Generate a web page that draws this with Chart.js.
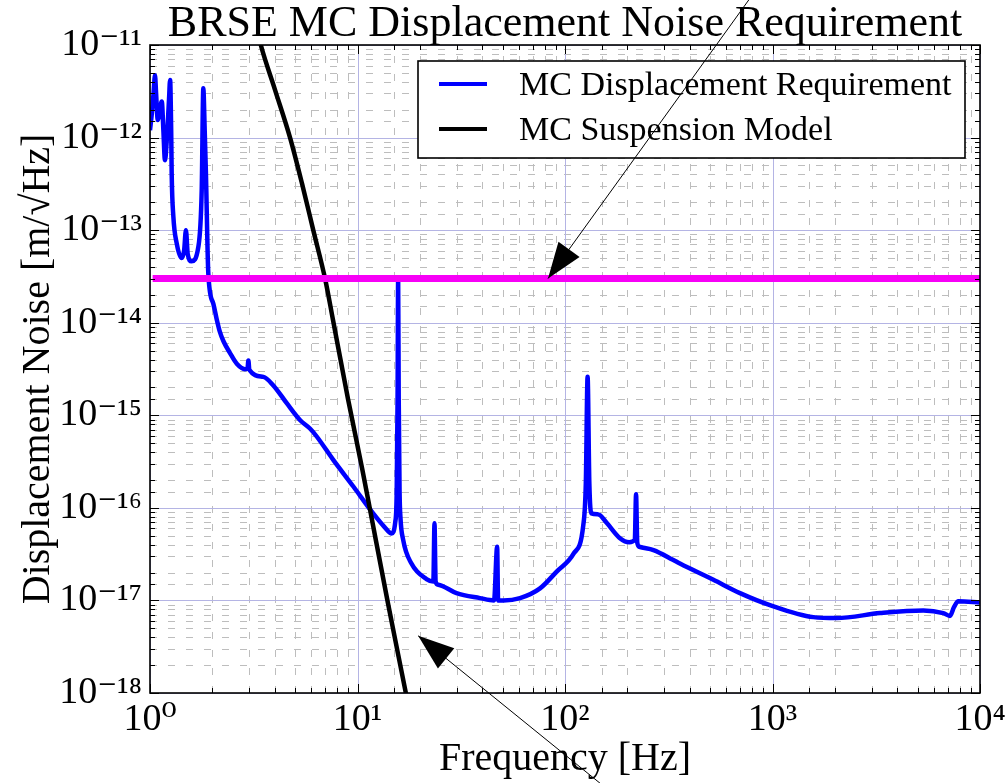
<!DOCTYPE html>
<html>
<head>
<meta charset="utf-8">
<script src="https://cdn.jsdelivr.net/npm/chart.js@4.4.1/dist/chart.umd.min.js"></script>
<style>
  html, body { margin: 0; padding: 0; background: #fff; }
</style>
</head>
<body>
<canvas id="mcChart" width="1006" height="783"></canvas>
<script>
// MC displacement requirement (blue)
const reqFreq = [1.00, 1.02, 1.04, 1.057, 1.07, 1.09, 1.115, 1.14, 1.16, 1.18, 1.21, 1.235, 1.25, 1.265, 1.272,
  1.296, 1.345, 1.42, 1.46, 1.49, 1.52, 1.585, 1.71, 1.775, 1.807, 1.835, 1.86, 1.91, 2.02, 2.10, 2.17, 2.26,
  2.43, 2.62, 2.87, 2.95, 2.98, 3.01, 3.52, 3.93, 4.56, 5.28, 5.9, 6.36, 7.64, 9.55, 11.9, 13.5, 14.6, 15.2,
  15.45, 15.6, 15.7, 15.8, 15.95, 16.1, 16.6, 18.2, 21.5, 23.2, 23.5, 23.8, 24.5, 30, 38.9, 45.5, 47.1, 47.6,
  50.5, 60.7, 75.8, 91.2, 110, 122.5, 126, 128.5, 131, 134, 144.8, 158.7, 184, 204, 217, 220, 223, 228, 267,
  331, 358, 519, 697, 972, 1574, 2040, 3300, 5330, 6650, 7160, 7500, 7860, 10000];
const reqNoise = [1.2e-12, 1.8e-12, 3.0e-12, 4.7e-12, 3.0e-12, 1.55e-12, 2.0e-12, 2.45e-12, 1.2e-12, 5.7e-13, 1.1e-12, 2.6e-12, 4.2e-12, 1.2e-12, 4.1e-13,
  1.4e-13, 7.2e-14, 5.0e-14, 6.0e-14, 1.0e-13, 5.5e-14, 4.6e-14, 6.6e-14, 2.7e-13, 3.4e-12, 1.2e-12, 4.1e-13, 3.4e-14, 1.6e-14, 1.07e-14, 8.0e-15, 6.3e-15,
  4.7e-15, 3.6e-15, 3.15e-15, 3.2e-15, 3.9e-15, 3.1e-15, 2.6e-15, 2.1e-15, 1.35e-15, 8.9e-16, 7.2e-16, 5.9e-16, 3.3e-16, 1.7e-16, 8.7e-17, 6.2e-17, 5.3e-17, 7.0e-17,
  1.5e-16, 1.5e-15, 3.0e-14, 1.5e-15, 1.5e-16, 8.0e-17, 4.5e-17, 2.5e-17, 1.7e-17, 1.6e-17, 6.8e-17, 1.6e-17, 1.48e-17, 1.2e-17, 1.06e-17, 1.0e-17, 3.8e-17, 1.0e-17,
  1.0e-17, 1.06e-17, 1.35e-17, 2.05e-17, 3.2e-17, 6.5e-17, 1.85e-16, 2.6e-15, 1.85e-16, 8.7e-17, 8.5e-17, 6.9e-17, 4.7e-17, 4.25e-17, 4.5e-17, 1.4e-16, 4.2e-17, 3.8e-17, 3.5e-17,
  2.75e-17, 2.5e-17, 1.67e-17, 1.2e-17, 8.9e-18, 6.6e-18, 6.45e-18, 7.3e-18, 7.8e-18, 7.3e-18, 6.8e-18, 8.5e-18, 9.8e-18, 9.5e-18];

// MC suspension model (black)
const suspFreq = [3.0, 3.42, 4.0, 4.73, 5.4, 6.12, 7.0, 7.62, 9.0, 10.55, 11.5, 14.0, 17.1, 19.0];
const suspNoise = [3.5e-11, 1e-11, 3.3e-12, 1e-12, 3.2e-13, 1e-13, 2.9e-14, 1.07e-14, 1.5e-15, 2.6e-16, 9.5e-17, 9.5e-18, 1e-18, 3e-19];

// flat requirement level (magenta)
const specFreq = [1.03, 10000];
const specNoise = [3e-14, 3e-14];

const seriesLabels = ['MC Displacement Requirement', 'MC Suspension Model'];

const xDecades = [1, 10, 100, 1000, 10000];
const xTickLabels = ['10⁰', '10¹', '10²', '10³', '10⁴'];
const yDecades = [1e-18, 1e-17, 1e-16, 1e-15, 1e-14, 1e-13, 1e-12, 1e-11];
const yTickLabels = ['10⁻¹⁸', '10⁻¹⁷', '10⁻¹⁶', '10⁻¹⁵', '10⁻¹⁴', '10⁻¹³', '10⁻¹²', '10⁻¹¹'];

// annotation arrows: tail -> head, in data units
const arrowTails = [[779, 3.2e-11], [150.7, 1.02e-19]];
const arrowHeads = [[82.8, 3e-14], [19.6, 4.15e-18]];

const FONT = "'Liberation Serif', 'DejaVu Serif', serif";

function toPoints(xs, ys) {
    return xs.map((v, i) => ({ x: v, y: ys[i] }));
}

function decadeIndex(list, v) {
    return list.findIndex(d => Math.abs(Math.log10(v) - Math.log10(d)) < 1e-6);
}

function isDecade(v) {
    const e = Math.log10(v);
    return Math.abs(e - Math.round(e)) < 1e-6;
}

/* ==============================
   GRID, FRAME, LEGEND, ARROWS
============================== */

const decorations = {
    id: 'decorations',
    beforeDatasetsDraw(chart) {
        const { ctx, chartArea: a, scales: { x, y } } = chart;
        ctx.save();
        ctx.lineWidth = 1;

        // minor grid - dashed gray
        ctx.strokeStyle = '#bdbdbd';
        ctx.setLineDash([7, 11]);
        x.ticks.forEach(t => {
            if (isDecade(t.value)) return;
            const px = Math.round(x.getPixelForValue(t.value)) + 0.5;
            ctx.beginPath(); ctx.moveTo(px, a.bottom); ctx.lineTo(px, a.top); ctx.stroke();
        });
        y.ticks.forEach(t => {
            if (isDecade(t.value)) return;
            const py = Math.round(y.getPixelForValue(t.value)) + 0.5;
            ctx.beginPath(); ctx.moveTo(a.left, py); ctx.lineTo(a.right, py); ctx.stroke();
        });

        // major grid - solid lavender
        ctx.setLineDash([]);
        ctx.strokeStyle = '#b4b4e4';
        xDecades.forEach(v => {
            const px = Math.round(x.getPixelForValue(v)) + 0.5;
            ctx.beginPath(); ctx.moveTo(px, a.bottom); ctx.lineTo(px, a.top); ctx.stroke();
        });
        yDecades.forEach(v => {
            const py = Math.round(y.getPixelForValue(v)) + 0.5;
            ctx.beginPath(); ctx.moveTo(a.left, py); ctx.lineTo(a.right, py); ctx.stroke();
        });
        ctx.restore();
    },

    afterDatasetsDraw(chart) {
        const { ctx, chartArea: a, scales: { x, y } } = chart;
        ctx.save();

        // inward tick marks
        ctx.strokeStyle = '#000';
        ctx.lineWidth = 1;
        x.ticks.forEach(t => {
            const px = Math.round(x.getPixelForValue(t.value)) + 0.5;
            const len = isDecade(t.value) ? 9 : 5;
            ctx.beginPath();
            ctx.moveTo(px, a.bottom); ctx.lineTo(px, a.bottom - len);
            ctx.moveTo(px, a.top); ctx.lineTo(px, a.top + len);
            ctx.stroke();
        });
        y.ticks.forEach(t => {
            const py = Math.round(y.getPixelForValue(t.value)) + 0.5;
            const len = isDecade(t.value) ? 9 : 5;
            ctx.beginPath();
            ctx.moveTo(a.left, py); ctx.lineTo(a.left + len, py);
            ctx.moveTo(a.right, py); ctx.lineTo(a.right - len, py);
            ctx.stroke();
        });

        // frame
        ctx.lineWidth = 1.6;
        ctx.strokeRect(a.left, a.top, a.right - a.left, a.bottom - a.top);

        // legend box
        const bx = a.right - 562, by = a.top + 16, bw = 547, bh = 97;
        ctx.fillStyle = '#fff';
        ctx.fillRect(bx, by, bw, bh);
        ctx.lineWidth = 1.6;
        ctx.strokeStyle = '#000';
        ctx.strokeRect(bx, by, bw, bh);
        ctx.font = '34px ' + FONT;
        ctx.textBaseline = 'alphabetic';
        ctx.textAlign = 'left';
        const entries = chart.data.datasets.filter(ds => seriesLabels.includes(ds.label))
            .sort((p, q) => seriesLabels.indexOf(p.label) - seriesLabels.indexOf(q.label));
        entries.forEach((ds, i) => {
            const rowY = by + 23 + i * 45;
            ctx.strokeStyle = ds.borderColor;
            ctx.lineWidth = 4;
            ctx.beginPath();
            ctx.moveTo(bx + 21, rowY); ctx.lineTo(bx + 69, rowY);
            ctx.stroke();
            ctx.fillStyle = '#000';
            ctx.fillText(ds.label, bx + 101, rowY + 11);
        });

        // title
        ctx.fillStyle = '#000';
        ctx.font = '44px ' + FONT;
        ctx.textAlign = 'center';
        ctx.fillText('BRSE MC Displacement Noise Requirement', (a.left + a.right) / 2, a.top - 9);

        // arrows
        ctx.strokeStyle = '#000';
        ctx.fillStyle = '#000';
        ctx.lineWidth = 1;
        arrowTails.forEach((tail, i) => {
            const head = arrowHeads[i];
            const x0 = x.getPixelForValue(tail[0]), y0 = y.getPixelForValue(tail[1]);
            const x1 = x.getPixelForValue(head[0]), y1 = y.getPixelForValue(head[1]);
            ctx.beginPath(); ctx.moveTo(x0, y0); ctx.lineTo(x1, y1); ctx.stroke();
            const ang = Math.atan2(y1 - y0, x1 - x0);
            const L = 36, W = 13;
            const cx = x1 - L * Math.cos(ang), cy = y1 - L * Math.sin(ang);
            ctx.beginPath();
            ctx.moveTo(x1, y1);
            ctx.lineTo(cx + W * Math.sin(ang), cy - W * Math.cos(ang));
            ctx.lineTo(cx - W * Math.sin(ang), cy + W * Math.cos(ang));
            ctx.closePath();
            ctx.fill();
        });
        ctx.restore();
    }
};

/* ==============================
   CHART
============================== */

new Chart(document.getElementById('mcChart'), {
    type: 'scatter',
    data: {
        datasets: [
            {
                label: 'Requirement level',
                data: toPoints(specFreq, specNoise),
                borderColor: '#f700f7',
                borderWidth: 7
            },
            {
                label: seriesLabels[1],
                data: toPoints(suspFreq, suspNoise),
                borderColor: '#000000',
                borderWidth: 4.5,
                cubicInterpolationMode: 'monotone'
            },
            {
                label: seriesLabels[0],
                data: toPoints(reqFreq, reqNoise),
                borderColor: '#0000ff',
                borderWidth: 4.5,
                cubicInterpolationMode: 'monotone'
            }
        ].map(ds => ({ ...ds, showLine: true, pointRadius: 0, fill: false }))
    },
    options: {
        responsive: false,
        animation: false,
        devicePixelRatio: 1,
        layout: { padding: { top: 45, right: 26, left: 0, bottom: 0 } },
        plugins: {
            legend: { display: false },
            tooltip: { enabled: false }
        },
        scales: {
            x: {
                type: 'logarithmic',
                min: 1,
                max: 10000,
                grid: { display: false, drawTicks: false },
                border: { display: false },
                ticks: {
                    autoSkip: false,
                    maxRotation: 0,
                    padding: 4,
                    color: '#000',
                    font: { family: FONT, size: 38 },
                    callback: v => {
                        const i = decadeIndex(xDecades, v);
                        return i >= 0 ? xTickLabels[i] : '';
                    }
                },
                title: {
                    display: true,
                    text: 'Frequency [Hz]',
                    color: '#000',
                    font: { family: FONT, size: 40 },
                    padding: { top: 0, bottom: 0 }
                },
                afterFit: s => { s.height = 90; s.paddingLeft = 0; s.paddingRight = 0; }
            },
            y: {
                type: 'logarithmic',
                min: 1e-18,
                max: 1e-11,
                grid: { display: false, drawTicks: false },
                border: { display: false },
                ticks: {
                    autoSkip: false,
                    padding: 8,
                    color: '#000',
                    font: { family: FONT, size: 38 },
                    callback: v => {
                        const i = decadeIndex(yDecades, v);
                        return i >= 0 ? yTickLabels[i] : '';
                    }
                },
                title: {
                    display: true,
                    text: 'Displacement Noise [m/√Hz]',
                    color: '#000',
                    font: { family: FONT, size: 40 },
                    padding: { top: 14, bottom: 0 }
                },
                afterFit: s => { s.width = 150; s.paddingTop = 0; s.paddingBottom = 0; }
            }
        }
    },
    plugins: [decorations]
});
</script>
</body>
</html>
